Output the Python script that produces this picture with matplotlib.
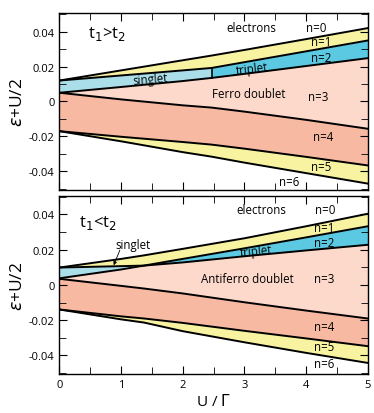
import numpy as np
import matplotlib
matplotlib.use("Agg")
import matplotlib.pyplot as plt
from matplotlib.ticker import MultipleLocator

# upper panel, t1 > t2 (singlet -> triplet switch at U/G ~ 2.47)
x1 = [0, 1, 2, 2.47, 3, 4, 5]
a1 = [0.012, 0.0178, 0.0236, 0.0263, 0.0295, 0.0357, 0.042]
b1 = [0.012, 0.0149, 0.0178, 0.0192, 0.0225, 0.0287, 0.0349]
c1 = [0.005, 0.0083, 0.0117, 0.0135, 0.0158, 0.0203, 0.0248]
d1 = [0.005, 0.0012, -0.0022, -0.0035, -0.0058, -0.0105, -0.0156]
e1 = [-0.017, -0.0202, -0.0232, -0.0247, -0.027, -0.0317, -0.0366]
f1 = [-0.017, -0.0228, -0.029, -0.0316, -0.035, -0.041, -0.047]
sw1 = 2.47

# lower panel, t1 < t2 (singlet closes at U/G ~ 1.37)
x2 = [0, 1, 1.37, 2, 3, 4, 5]
a2 = [0.0099, 0.0148, 0.0168, 0.0205, 0.0265, 0.0333, 0.0404]
b2 = [0.0099, 0.0107, 0.011, 0.0148, 0.0208, 0.027, 0.0333]
c2 = [0.0038, 0.0088, 0.011, 0.0128, 0.0163, 0.0196, 0.0228]
d2 = [0.0035, -0.0005, -0.002, -0.0048, -0.0098, -0.0145, -0.019]
e2 = [-0.0139, -0.0178, -0.019, -0.0215, -0.026, -0.0303, -0.0347]
f2 = [-0.0139, -0.0195, -0.0213, -0.0262, -0.0325, -0.0385, -0.0442]
sw2 = 1.37

yellow = "#f7f3a1"
lblue = "#aadfea"
blue = "#5bc9e1"
peach = "#fdd9cb"
salmon = "#f8b9a2"

plt.rcParams["font.family"] = ["Open Sans", "DejaVu Sans"]
plt.rcParams["mathtext.fontset"] = "dejavusans"

fig = plt.figure(figsize=(3.74, 4.14), dpi=100)
ax1 = fig.add_axes([0.159, 0.5394, 0.824, 0.4261])
ax2 = fig.add_axes([0.159, 0.0942, 0.824, 0.43])


def panel(ax, x, a, b, c, d, e, f, sw):
    x = np.array(x)
    a, b, c, d, e, f = map(np.array, (a, b, c, d, e, f))
    ax.fill_between(x, a, b, color=yellow, lw=0)
    ax.fill_between(x, b, c, where=x <= sw, color=lblue, lw=0, interpolate=True)
    ax.fill_between(x, b, c, where=x >= sw, color=blue, lw=0, interpolate=True)
    ax.fill_between(x, c, d, color=peach, lw=0)
    ax.fill_between(x, d, e, color=salmon, lw=0)
    ax.fill_between(x, e, f, color=yellow, lw=0)
    for yy in (a, b, c, d, e, f):
        ax.plot(x, yy, color="black", lw=1.4)
    ax.set_xlim(0, 5)
    ax.set_ylim(-0.0505, 0.0505)
    ax.set_yticks([-0.04, -0.02, 0, 0.02, 0.04])
    ax.set_yticklabels(["-0.04", "-0.02", "0", "0.02", "0.04"])
    ax.xaxis.set_minor_locator(MultipleLocator(0.5))
    ax.yaxis.set_minor_locator(MultipleLocator(0.01))
    ax.tick_params(which="both", direction="in", top=True, right=True, labelsize=8)
    ax.tick_params(which="major", length=6)
    ax.tick_params(which="minor", length=5)
    ax.set_ylabel(r"$\epsilon$+U/2", fontsize=12.5, labelpad=2)
    for s in ax.spines.values():
        s.set_linewidth(1.0)


panel(ax1, x1, a1, b1, c1, d1, e1, f1, sw1)
ax1.plot([sw1, sw1], [np.interp(sw1, x1, c1), np.interp(sw1, x1, b1)], color="black", lw=1.2)
ax1.set_xticklabels([])
fs = 8.3
ax1.text(0.77, 0.039, r"t$_1$>t$_2$", fontsize=12, ha="center", va="center")
ax1.text(3.12, 0.0425, "electrons", fontsize=fs, ha="center", va="center")
ax1.text(4.17, 0.0425, "n=0", fontsize=fs, ha="center", va="center")
ax1.text(4.24, 0.0343, "n=1", fontsize=fs, ha="center", va="center")
ax1.text(4.24, 0.025, "n=2", fontsize=fs, ha="center", va="center")
ax1.text(4.2, 0.0029, "n=3", fontsize=fs, ha="center", va="center")
ax1.text(4.28, -0.0198, "n=4", fontsize=fs, ha="center", va="center")
ax1.text(4.25, -0.0375, "n=5", fontsize=fs, ha="center", va="center")
ax1.text(3.72, -0.0457, "n=6", fontsize=fs, ha="center", va="center")
ax1.text(3.07, 0.0044, "Ferro doublet", fontsize=fs, ha="center", va="center")
ax1.text(1.47, 0.0126, "singlet", fontsize=fs, ha="center", va="center", rotation=5)
ax1.text(3.12, 0.0187, "triplet", fontsize=fs, ha="center", va="center", rotation=7)

panel(ax2, x2, a2, b2, c2, d2, e2, f2, sw2)
ax2.set_xticks([0, 1, 2, 3, 4, 5])
ax2.set_xlabel(r"U / $\mathit{\Gamma}$", fontsize=11, labelpad=2)
ax2.text(0.63, 0.0355, r"t$_1$<t$_2$", fontsize=12, ha="center", va="center")
ax2.text(3.28, 0.0429, "electrons", fontsize=fs, ha="center", va="center")
ax2.text(4.31, 0.0429, "n=0", fontsize=fs, ha="center", va="center")
ax2.text(4.3, 0.0328, "n=1", fontsize=fs, ha="center", va="center")
ax2.text(4.3, 0.0242, "n=2", fontsize=fs, ha="center", va="center")
ax2.text(4.3, 0.0038, "n=3", fontsize=fs, ha="center", va="center")
ax2.text(4.3, -0.0234, "n=4", fontsize=fs, ha="center", va="center")
ax2.text(4.3, -0.0349, "n=5", fontsize=fs, ha="center", va="center")
ax2.text(4.3, -0.0448, "n=6", fontsize=fs, ha="center", va="center")
ax2.text(3.05, 0.0038, "Antiferro doublet", fontsize=fs, ha="center", va="center")
ax2.text(3.2, 0.0192, "triplet", fontsize=fs, ha="center", va="center", rotation=6)
ax2.text(1.2, 0.0228, "singlet", fontsize=fs, ha="center", va="center")
ax2.annotate("", xy=(0.88, 0.0112), xytext=(0.98, 0.0198),
             arrowprops=dict(arrowstyle="-|>", lw=0.6, color="black",
                             mutation_scale=5, shrinkA=0, shrinkB=0))

fig.savefig("out.png", dpi=100)
